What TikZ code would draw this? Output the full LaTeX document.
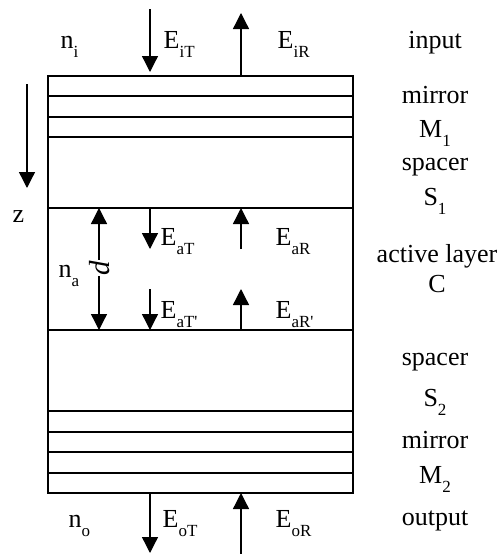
\documentclass[tikz,border=0pt]{standalone}
\usepackage{fontspec}
\setmainfont{Liberation Serif}
\usetikzlibrary{arrows.meta}
% lowered subscript used in the field labels
\newcommand{\lo}[1]{\raisebox{-0.38em}{\fontsize{17}{17}\selectfont #1}}

\begin{document}
\begin{tikzpicture}[x=1pt, y=-1pt, line width=1.3pt,
  fld/.style={-{Triangle[length=16pt,width=16pt]}},
  dim/.style={{Triangle[length=16pt,width=16pt]}-{Triangle[length=16pt,width=16pt]}},
  lbl/.style={anchor=base west, inner sep=0pt, font=\fontsize{26}{28}\selectfont},
  side/.style={anchor=base, inner sep=0pt, font=\fontsize{26}{28}\selectfont}]
\useasboundingbox (0,0) rectangle (500,554);

% layer stack
\draw (48,76) rectangle (353,493);
\foreach \yy in {96,117,137,208,330,411,432,452,473}
  \draw (48,\yy) -- (353,\yy);

% end points of the field arrows
\coordinate (iT0) at (150,9);   \coordinate (iT1) at (150,72);
\coordinate (iR0) at (241,76);  \coordinate (iR1) at (241,13);
\coordinate (aT0) at (150,208); \coordinate (aT1) at (150,249);
\coordinate (aR0) at (241,249); \coordinate (aR1) at (241,208);
\coordinate (bT0) at (150,289); \coordinate (bT1) at (150,330);
\coordinate (bR0) at (241,330); \coordinate (bR1) at (241,289);
\coordinate (oT0) at (150,493); \coordinate (oT1) at (150,553);
\coordinate (oR0) at (241,554); \coordinate (oR1) at (241,493);
\coordinate (z0) at (27,84);    \coordinate (z1) at (27,188);
\coordinate (d0) at (99,208);   \coordinate (d1) at (99,330);

\draw[fld] (iT0) -- (iT1);
\draw[fld] (iR0) -- (iR1);
\draw[fld] (aT0) -- (aT1);
\draw[fld] (aR0) -- (aR1);
\draw[fld] (bT0) -- (bT1);
\draw[fld] (bR0) -- (bR1);
\draw[fld] (oT0) -- (oT1);
\draw[fld] (oR0) -- (oR1);
\draw[fld] (z0) -- (z1);
\draw[dim] (d0) -- (d1);
\node[fill=white, inner sep=1pt, rotate=90, font=\fontsize{29}{29}\selectfont\itshape] (dlab) at (100,268) {d};

% field and index labels
\node[lbl] (ni)  at (60,48)  {n\lo{i}};
\node[lbl] (EiT) at (163,48) {E\lo{iT}};
\node[lbl] (EiR) at (277,48) {E\lo{iR}};
\node[lbl] (z)   at (12,222) {z};
\node[lbl] (na)  at (58,277) {n\lo{a}};
\node[lbl] (EaT) at (160,245) {E\lo{aT}};
\node[lbl] (EaR) at (275,245) {E\lo{aR}};
\node[lbl] (EbT) at (160,318) {E\lo{aT\textquotesingle}};
\node[lbl] (EbR) at (275,318) {E\lo{aR\textquotesingle}};
\node[lbl] (no)  at (68,527) {n\lo{o}};
\node[lbl] (EoT) at (162,527) {E\lo{oT}};
\node[lbl] (EoR) at (275,527) {E\lo{oR}};

% layer names
\node[side] (in)  at (435,48)  {input};
\node[side] (m1)  at (435,103) {mirror};
\node[side] (M1)  at (435,137) {M\lo{1}};
\node[side] (s1)  at (435,170) {spacer};
\node[side] (S1)  at (435,205) {S\lo{1}};
\node[side] (act) at (437,262) {active layer};
\node[side] (C)   at (437,292) {C};
\node[side] (s2)  at (435,365) {spacer};
\node[side] (S2)  at (435,406) {S\lo{2}};
\node[side] (m2)  at (435,448) {mirror};
\node[side] (M2)  at (435,483) {M\lo{2}};
\node[side] (out) at (435,525) {output};
\end{tikzpicture}
\end{document}
